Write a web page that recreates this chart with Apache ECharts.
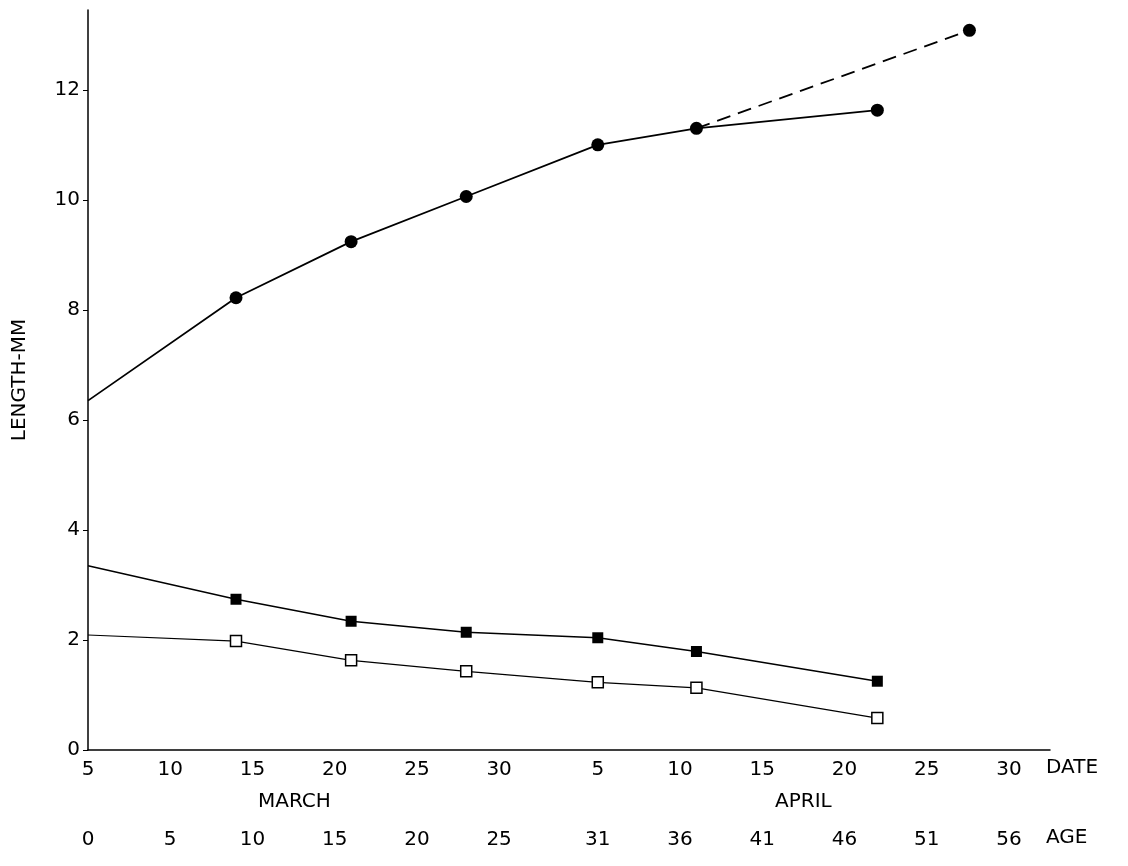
<!DOCTYPE html>
<html><head><meta charset="utf-8">
<script src="https://cdn.jsdelivr.net/npm/echarts@6/dist/echarts.min.js"></script>
<style>html,body{margin:0;background:#fff}#c{width:1128px;height:866px}</style>
</head><body><div id="c"></div>
<script>
// x = age in days (0 = March 5)
const dateTickAges = [0,5,10,15,20,25,31,36,41,46,51,56];
const dateTickLabels = ['5','10','15','20','25','30','5','10','15','20','25','30'];
const ageTickLabels = ['0','5','10','15','20','25','31','36','41','46','51','56'];
const totalAges = [0,9,16,23,31,37,48];
const totalLength = [6.35,8.22,9.24,10.06,11.0,11.3,11.63];
const dashedAges = [37,53.6];
const dashedLength = [11.3,13.08];
const filledSq = [3.35,2.74,2.34,2.14,2.04,1.79,1.25];
const openSq = [2.09,1.98,1.63,1.43,1.23,1.13,0.58];

const mk = (ages, vals, sym) => ages.map((a,i)=>({value:[a,vals[i]], symbol: i===0 ? 'none' : sym}));
const font = 'DejaVu Sans';
const fmt = labels => v => { const i = dateTickAges.indexOf(Math.round(v*10)/10); return i>=0 ? labels[i] : ''; };

const chart = echarts.init(document.getElementById('c'));
chart.setOption({
  animation:false,
  grid:{left:88,right:78,top:10,bottom:116},
  xAxis:[
    {type:'value',min:0,max:58.5,interval:1,position:'bottom',
     axisLine:{lineStyle:{color:'#000',width:1.5}},axisTick:{show:false},splitLine:{show:false},
     axisLabel:{formatter:fmt(dateTickLabels),color:'#000',fontSize:20,fontFamily:font,margin:10,showMaxLabel:false}},
    {type:'value',min:0,max:58.5,interval:1,position:'bottom',offset:72,
     axisLine:{show:false},axisTick:{show:false},splitLine:{show:false},
     axisLabel:{formatter:fmt(ageTickLabels),color:'#000',fontSize:20,fontFamily:font,showMaxLabel:false}}
  ],
  yAxis:{type:'value',min:0,max:13.45,interval:2,
    axisLine:{show:true,lineStyle:{color:'#000',width:1.5}},axisTick:{show:true,length:5},splitLine:{show:false},
    axisLabel:{color:'#000',fontSize:20,fontFamily:font,showMaxLabel:false,margin:8},
    name:'LENGTH-MM',nameLocation:'middle',nameGap:58,nameTextStyle:{color:'#000',fontSize:20,fontFamily:font}},
  graphic:[
    {type:'text',left:258,top:792,style:{text:'MARCH',font:'20px DejaVu Sans',fill:'#000'}},
    {type:'text',left:775,top:792,style:{text:'APRIL',font:'20px DejaVu Sans',fill:'#000'}},
    {type:'text',left:1046,top:758,style:{text:'DATE',font:'20px DejaVu Sans',fill:'#000'}},
    {type:'text',left:1046,top:828,style:{text:'AGE',font:'20px DejaVu Sans',fill:'#000'}}
  ],
  series:[
    {type:'line',data:mk(totalAges,totalLength,'circle'),symbolSize:13,lineStyle:{color:'#000',width:1.8},itemStyle:{color:'#000'}},
    {type:'line',data:dashedAges.map((a,i)=>({value:[a,dashedLength[i]],symbol:i===0?'none':'circle'})),symbolSize:13,lineStyle:{color:'#000',width:1.8,type:[14,8]},itemStyle:{color:'#000'}},
    {type:'line',data:mk(totalAges,filledSq,'rect'),symbolSize:11,lineStyle:{color:'#000',width:1.5},itemStyle:{color:'#000'}},
    {type:'line',data:mk(totalAges,openSq,'rect'),symbolSize:11,lineStyle:{color:'#000',width:1.2},itemStyle:{color:'#fff',borderColor:'#000',borderWidth:1.5}}
  ]
});
</script></body></html>
